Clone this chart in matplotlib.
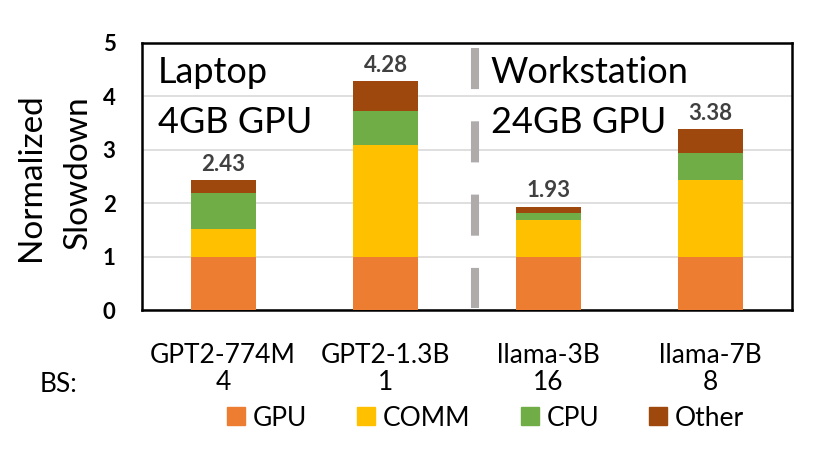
import matplotlib
matplotlib.use('Agg')
import matplotlib.pyplot as plt
import numpy as np
from matplotlib.patches import Patch

plt.rcParams['font.family'] = ['Lato', 'DejaVu Sans']

models = ['GPT2-774M', 'GPT2-1.3B', 'llama-3B', 'llama-7B']
batch = ['4', '1', '16', '8']
gpu = [1.00, 1.00, 1.00, 1.00]
comm = [0.52, 2.08, 0.69, 1.43]
cpu = [0.68, 0.64, 0.12, 0.51]
other = [0.23, 0.56, 0.12, 0.44]
totals = ['2.43', '4.28', '1.93', '3.38']

parts = [('GPU', gpu, '#ED7D31'), ('COMM', comm, '#FFC000'),
         ('CPU', cpu, '#70AD47'), ('Other', other, '#9E480E')]

fig = plt.figure(figsize=(8.3, 4.65), dpi=100)
ax = fig.add_axes([0.171, 0.333, 0.783, 0.575])

x = np.arange(len(models))
bottom = np.zeros(len(models))
for name, vals, col in parts:
  ax.bar(x, vals, 0.4, bottom=bottom, color=col, zorder=3)
  bottom = bottom + np.array(vals)

for i in range(len(models)):
  ax.annotate(totals[i], (x[i], bottom[i]), xytext=(0, 4), textcoords='offset points',
              ha='center', va='bottom', fontsize=16, fontweight='bold', color='#404040')

# separator between laptop and workstation
ax.plot([1.55, 1.55], [4.9, 0.04], color='#AFABAB', lw=5.8,
        linestyle=(0, (5.1, 4.0)), solid_capstyle='butt', zorder=2)

ax.set_xlim(-0.5, 3.5)
ax.set_ylim(0, 5)
ax.set_yticks([0, 1, 2, 3, 4, 5])
ax.set_yticklabels(['0', '1', '2', '3', '4', '5'], fontsize=16, fontweight='bold')
ax.set_xticks(x)
ax.set_xticklabels([m + '\n' + b for m, b in zip(models, batch)], fontsize=19, linespacing=1.1)
ax.tick_params(axis='y', length=0, pad=19)
ax.tick_params(axis='x', length=0, pad=24)
ax.yaxis.grid(True, color='#D9D9D9', lw=1.2, zorder=0)
for s in ax.spines.values():
  s.set_linewidth(1.8)
  s.set_color('black')

ax.text(0.025, 0.849, 'Laptop', transform=ax.transAxes, fontsize=26)
ax.text(0.025, 0.664, '4GB GPU', transform=ax.transAxes, fontsize=26)
ax.text(0.537, 0.849, 'Workstation', transform=ax.transAxes, fontsize=26)
ax.text(0.537, 0.664, '24GB GPU', transform=ax.transAxes, fontsize=26)

fig.text(0.037, 0.619, 'Normalized', rotation=90, ha='center', va='center', fontsize=24)
fig.text(0.094, 0.630, 'Slowdown', rotation=90, ha='center', va='center', fontsize=24)
fig.text(0.071, 0.174, 'BS:', ha='center', va='center', fontsize=19)

handles = [Patch(color=c, label=n) for n, v, c in parts]
fig.legend(handles=handles, loc='center', bbox_to_anchor=(0.585, 0.101), ncol=4, frameon=False,
           fontsize=19, handlelength=0.68, handleheight=0.68, handletextpad=0.3,
           columnspacing=1.9, borderpad=0)

fig.savefig('out.png', dpi=100)
